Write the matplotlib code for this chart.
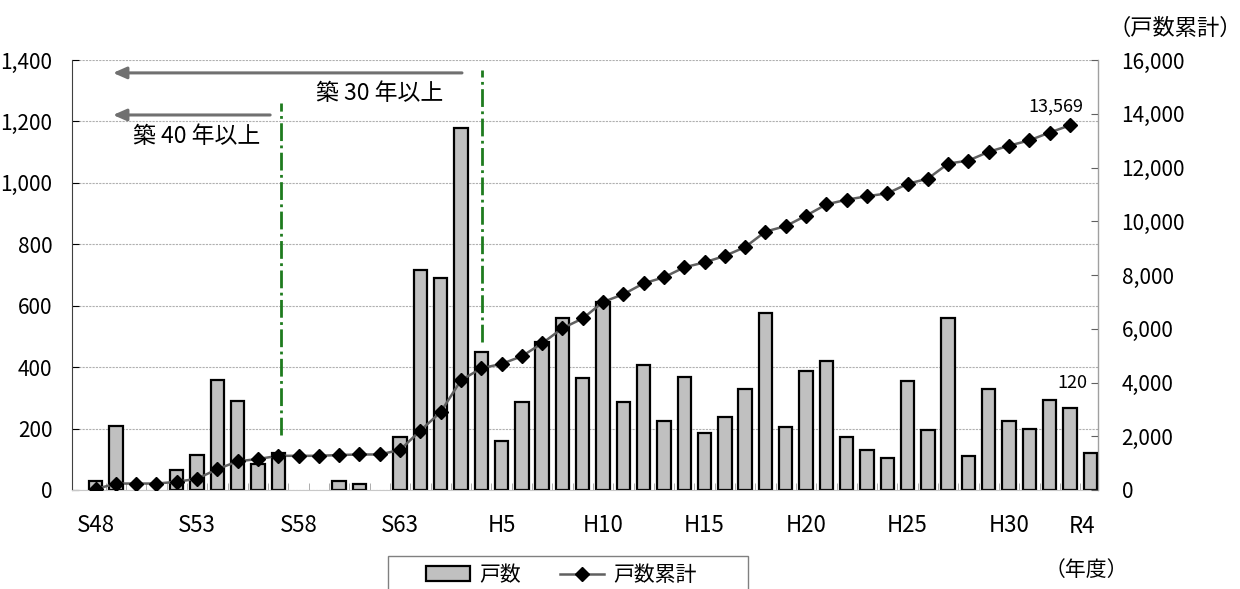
import numpy as np
import matplotlib
matplotlib.use('Agg')
from matplotlib import pyplot as plt
from matplotlib import transforms
from matplotlib.patches import Rectangle

plt.rcParams['font.family'] = ['Noto Sans CJK JP', 'DejaVu Sans']
jp = ['Noto Sans CJK JP', 'DejaVu Sans']

# fiscal years S48 .. R4
years = ['S48', 'S49', 'S50', 'S51', 'S52', 'S53', 'S54', 'S55', 'S56', 'S57',
         'S58', 'S59', 'S60', 'S61', 'S62', 'S63', 'H1', 'H2', 'H3', 'H4',
         'H5', 'H6', 'H7', 'H8', 'H9', 'H10', 'H11', 'H12', 'H13', 'H14',
         'H15', 'H16', 'H17', 'H18', 'H19', 'H20', 'H21', 'H22', 'H23', 'H24',
         'H25', 'H26', 'H27', 'H28', 'H29', 'H30', 'R1', 'R2', 'R3', 'R4']
units = [30, 210, 0, 0, 65, 114, 358, 290, 85, 120,
         0, 0, 30, 20, 0, 172, 716, 690, 1180, 450,
         161, 287, 481, 560, 365, 612, 287, 406, 226, 369,
         187, 239, 330, 575, 205, 388, 420, 173, 130, 105,
         355, 195, 560, 112, 328, 226, 198, 292, 267, 120]
tick_years = ['S48', 'S53', 'S58', 'S63', 'H5', 'H10', 'H15', 'H20', 'H25', 'H30']

x = np.arange(len(years))
units = np.array(units)
# cumulative line is drawn up to R3
cum = np.cumsum(units)[:-1]

fig = plt.figure(figsize=(12.4, 5.89), dpi=100)
ax = fig.add_axes([72/1240, 1-490/589, (1098-72)/1240, 430/589])
ax2 = ax.twinx()

nz = units > 0
ax.bar(x[nz], units[nz], width=0.66, color='#c0c0c0', edgecolor='black', linewidth=1.6, zorder=2, label='戸数')
ax2.plot(x[:len(cum)], cum, color='#606060', linewidth=1.8, marker='D', markersize=7,
         markerfacecolor='black', markeredgecolor='black', zorder=3, label='戸数累計')

ax.set_xlim(-1.16, 49.38)
ax.set_ylim(0, 1400)
ax2.set_ylim(0, 16000)
ax.set_yticks(np.arange(0, 1401, 200))
ax.set_yticklabels([f'{v:,}' for v in range(0, 1401, 200)])
ax2.set_yticks(np.arange(0, 16001, 2000))
ax2.set_yticklabels([f'{v:,}' for v in range(0, 16001, 2000)])
ax.set_xticks([years.index(t) for t in tick_years])
ax.set_xticklabels(tick_years)
ax.set_xticks(x[:-1] + 0.5, minor=True)

ax.grid(axis='y', color='#b0b0b0', linestyle=(0, (2, 1)), linewidth=0.8, zorder=0)
ax.set_axisbelow(True)
ax.tick_params(axis='y', direction='in', length=5, labelsize=15, pad=14, color='black')
ax2.tick_params(axis='y', direction='in', length=5, labelsize=15, pad=17, color='#606060')
ax.tick_params(axis='x', which='major', length=0, labelsize=16, pad=17)
ax.tick_params(axis='x', which='minor', direction='in', length=5, color='#a0a0a0')

for a in (ax, ax2):
    a.spines['top'].set_visible(False)
ax.spines['left'].set_color('#404040')
ax.spines['bottom'].set_color('#c8c8c8')
ax2.spines['right'].set_color('#a0a0a0')
ax2.spines['left'].set_visible(False)
ax2.spines['bottom'].set_visible(False)

# R4 label sits a little lower than the others
tr = transforms.blended_transform_factory(ax.transData, ax.transAxes)
ax.text(48.6, -0.058, 'R4', transform=tr, ha='center', va='top', fontsize=16)

# 築年数 guides
green = '#1e7b1e'
ax.plot([9.15, 9.15], [179, 1260], color=green, linestyle='-.', linewidth=2, zorder=4)
ax.plot([19.05, 19.05], [482, 1367], color=green, linestyle='-.', linewidth=2, zorder=4)
arrow = dict(arrowstyle='-|>,head_length=0.8,head_width=0.35', color='#707070', linewidth=2.2, shrinkA=0, shrinkB=0)
ax.annotate('', xy=(0.86, 1358), xytext=(18.05, 1358), arrowprops=arrow, zorder=4)
ax.annotate('', xy=(0.86, 1221), xytext=(8.6, 1221), arrowprops=arrow, zorder=4)
ax.text(14.0, 1290, '築 30 年以上', ha='center', va='center', fontsize=16.5, family=jp)
ax.text(5.0, 1150, '築 40 年以上', ha='center', va='center', fontsize=16.5, family=jp)

ax2.text(48.65, 14250, f'{cum[-1]:,}', ha='right', va='center', fontsize=13)
ax.text(48.85, 348, f'{units[-1]}', ha='right', va='center', fontsize=13)

fig.text(1175/1240, 1-28/589, '（戸数累計）', ha='center', va='center', fontsize=16, family=jp)
fig.text(1086/1240, 1-570/589, '（年度）', ha='center', va='center', fontsize=15, family=jp)

# legend box runs off the bottom edge
fig.add_artist(Rectangle((388/1240, -0.05), (748-388)/1240, 1-556/589+0.05,
                         transform=fig.transFigure, facecolor='white', edgecolor='#808080',
                         linewidth=1.0, clip_on=False))
h1, l1 = ax.get_legend_handles_labels()
h2, l2 = ax2.get_legend_handles_labels()
leg = fig.legend(h1 + h2, l1 + l2, loc='center left', bbox_to_anchor=(426/1240, 1-575/589),
                 ncol=2, frameon=False, borderpad=0, borderaxespad=0,
                 handlelength=2.1, handletextpad=0.45, columnspacing=1.9,
                 prop={'family': jp, 'size': 15})

fig.savefig('out.png', dpi=100)
